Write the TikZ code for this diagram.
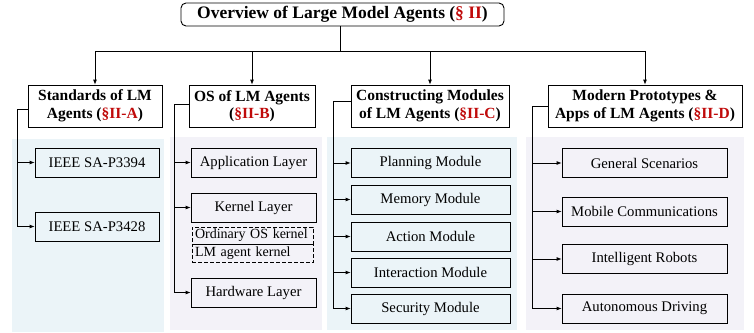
\documentclass[tikz,border=0pt]{standalone}
\usepackage{fontspec}
\setmainfont{Liberation Serif}
\usetikzlibrary{arrows.meta}
\definecolor{secred}{RGB}{192,10,10}
\definecolor{panelblue}{RGB}{235,244,248}
\definecolor{panellilac}{RGB}{243,242,248}

\begin{document}
\begin{tikzpicture}[
  x=1pt, y=-1pt,
  title/.style={draw, rounded corners=5pt, line width=0.9pt, fill=white, minimum width=323pt, minimum height=23pt, inner sep=0pt, font=\fontsize{17.5}{20}\selectfont\bfseries},
  head/.style={draw, line width=0.8pt, fill=white, align=center, minimum height=42pt, inner sep=0pt, font=\fontsize{15.5}{17.5}\selectfont\bfseries},
  item/.style={draw, line width=0.8pt, minimum height=29pt, inner sep=0pt, font=\fontsize{14.7}{16}\selectfont},
  kernel/.style={draw, dash pattern=on 4pt off 2pt, line width=0.7pt, text width=115pt, align=left, inner xsep=3pt, inner ysep=0pt, font=\fontsize{14}{15}\selectfont},
  arrow/.style={-{Latex[length=5pt,width=4pt]}, line width=0.8pt},
  link/.style={line width=0.8pt}
]
\useasboundingbox (0,0) rectangle (754,332);

\fill[panelblue] (12,139) rectangle (164,332);
\fill[panellilac] (170,137) rectangle (322,330);
\fill[panelblue] (327,137) rectangle (517,330);
\fill[panellilac] (526,137) rectangle (744,330);

\node (top) [title] at (342.5,14.5) {Overview of Large Model Agents (\textcolor{secred}{\S{} II})};

\node (hA) [head, minimum width=134pt] at (95,106) {Standards of LM\\Agents (\textcolor{secred}{\S II-A})};
\node (hB) [head, minimum width=126pt] at (252,106) {OS of LM Agents\\(\textcolor{secred}{\S II-B})};
\node (hC) [head, minimum width=158pt] at (430,106) {Constructing Modules\\of LM Agents (\textcolor{secred}{\S II-C})};
\node (hD) [head, minimum width=194pt] at (645,106) {Modern Prototypes \&\\Apps of LM Agents (\textcolor{secred}{\S II-D})};

\node (a1) [item, minimum width=124pt] at (97,162.5) {IEEE SA-P3394};
\node (a2) [item, minimum width=124pt] at (97,226.5) {IEEE SA-P3428};

\node (b1) [item, minimum width=125pt] at (253.5,162.5) {Application Layer};
\node (b2) [item, minimum width=125pt] at (253.5,207.5) {Kernel Layer};
\node (k1) [kernel, minimum height=17pt] at (252.5,235.5) {Ordinary OS kernel};
\node (k2) [kernel, minimum height=18pt] at (252.5,253.5) {LM agent kernel};
\node (b3) [item, minimum width=125pt] at (253.5,292.5) {Hardware Layer};

\node (c1) [item, minimum width=159pt] at (430.5,163) {Planning Module};
\node (c2) [item, minimum width=159pt] at (430.5,199.5) {Memory Module};
\node (c3) [item, minimum width=159pt] at (430.5,236.5) {Action Module};
\node (c4) [item, minimum width=159pt] at (430.5,272.5) {Interaction Module};
\node (c5) [item, minimum width=159pt] at (430.5,308.5) {Security Module};

\node (d1) [item, minimum width=165pt] at (644.5,163) {General Scenarios};
\node (d2) [item, minimum width=165pt] at (644.5,211.5) {Mobile Communications};
\node (d3) [item, minimum width=165pt] at (644.5,259) {Intelligent Robots};
\node (d4) [item, minimum width=165pt] at (644.5,308.5) {Autonomous Driving};

\draw[link] (top.south -| 340,0) -- (340,51) coordinate (split);
\foreach \h in {hA,hB,hC,hD}
  \draw[arrow] (split) -| (\h.north);

\foreach \c in {a1,a2}
  \draw[arrow] ([yshift=-3pt]hA.west) -- ++(-10,0) |- (\c.west);
\foreach \c in {b1,b2,b3}
  \draw[arrow] ([yshift=2pt]hB.west) -- ++(-14,0) |- (\c.west);
\foreach \c in {c1,c2,c3,c4,c5}
  \draw[arrow] ([yshift=5pt]hC.west) -- ++(-17,0) |- (\c.west);
\foreach \c in {d1,d2,d3,d4}
  \draw[arrow] (hD.west) -- ++(-15,0) |- (\c.west);
\end{tikzpicture}
\end{document}
